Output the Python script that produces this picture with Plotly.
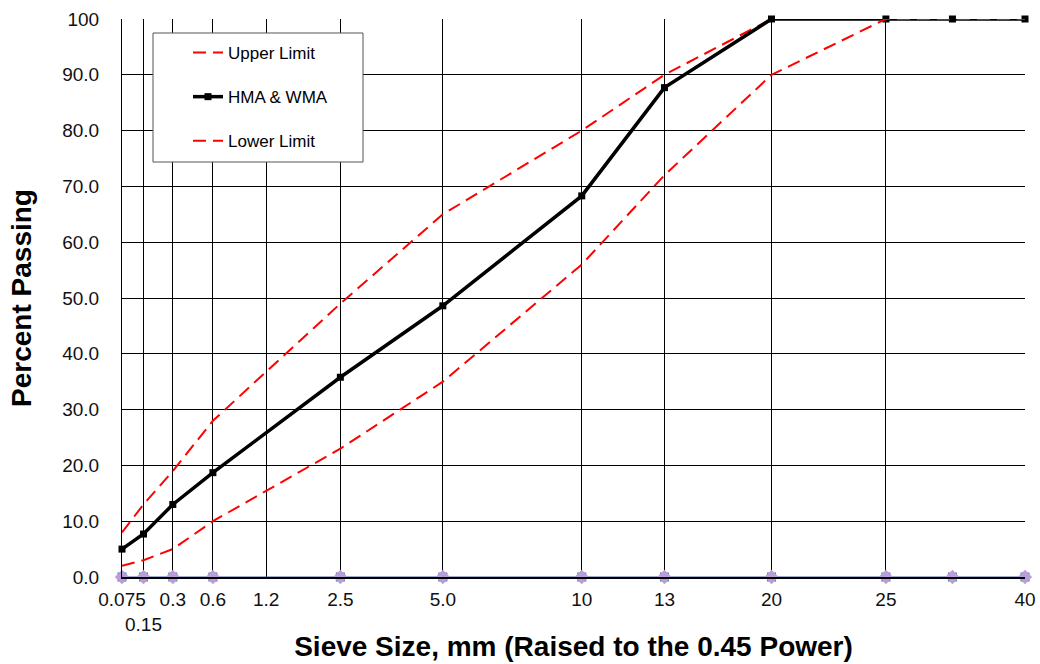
import plotly.graph_objects as go

# Sieve sizes (mm) used for data points (1.18 mm has no data)
sieve_sizes = [0.075, 0.15, 0.3, 0.6, 2.36, 4.75, 9.5, 13.2, 19, 26.5, 31.5, 37.5]
upper_limit = [8, 13, 19, 28, 49, 65, 80, 90, 100, 100, 100, 100]
hma_wma = [5, 7.7, 13, 18.7, 35.8, 48.6, 68.3, 87.7, 100, 100, 100, 100]
lower_limit = [2, 3, 5, 10, 23, 35, 56, 72, 90, 100, 100, 100]
baseline = [0] * len(sieve_sizes)

# Gridline / tick sieves and labels
tick_sizes = [0.075, 0.15, 0.3, 0.6, 1.18, 2.36, 4.75, 9.5, 13.2, 19, 26.5, 37.5]
tick_labels = ["0.075", "<br>0.15", "0.3", "0.6", "1.2", "2.5", "5.0", "10", "13", "20", "25", "40"]

y_ticks = [0, 10, 20, 30, 40, 50, 60, 70, 80, 90, 100]
y_labels = ["0.0", "10.0", "20.0", "30.0", "40.0", "50.0", "60.0", "70.0", "80.0", "90.0", "100"]

P = 0.45
xs = [s ** P for s in sieve_sizes]
xt = [s ** P for s in tick_sizes]

FONT = "Liberation Sans, Arial, sans-serif"

fig = go.Figure()

# baseline series at zero
fig.add_trace(go.Scatter(x=xs, y=baseline, mode="lines+markers",
                         line=dict(color="#3a5fa8", width=1.2),
                         marker=dict(symbol="square", size=9, color="#2a8a8a"),
                         showlegend=False, cliponaxis=False, hoverinfo="skip"))
fig.add_trace(go.Scatter(x=xs, y=baseline, mode="markers",
                         marker=dict(symbol="diamond", size=11, color="#bb9ddb"),
                         showlegend=False, cliponaxis=False, hoverinfo="skip"))

fig.add_trace(go.Scatter(x=xs, y=upper_limit, mode="lines", name="Upper Limit",
                         line=dict(color="#ff0000", width=2, dash="13px,7px"),
                         legendgroup="a", cliponaxis=False))
fig.add_trace(go.Scatter(x=xs, y=hma_wma, mode="lines+markers", name="HMA & WMA",
                         line=dict(color="#000000", width=3.5),
                         marker=dict(symbol="square", size=7, color="#000000"),
                         legendgroup="b", cliponaxis=False))
fig.add_trace(go.Scatter(x=xs, y=lower_limit, mode="lines", name="Lower Limit",
                         line=dict(color="#ff0000", width=2, dash="13px,7px"),
                         legendgroup="c", cliponaxis=False))

W, H = 1040, 664
L, R, T, B = 122, 15, 19, 87
pw = W - L - R
ph = H - T - B

def px_x(p):
    return (p - L) / pw

def px_y(p):
    return (H - B - p) / ph

eps = 1e-6
fig.update_layout(
    width=W, height=H,
    margin=dict(l=L, r=R, t=T, b=B),
    paper_bgcolor="white", plot_bgcolor="white",
    font=dict(family=FONT, color="#000000"),
    xaxis=dict(range=[xt[0] - eps, xt[-1] + eps], tickmode="array", tickvals=xt,
               ticktext=tick_labels, tickangle=0, automargin=False,
               showgrid=True, gridcolor="#000000", gridwidth=1,
               showline=True, linecolor="#000000", linewidth=2, mirror=False,
               zeroline=False, ticks="", ticklabelstandoff=4,
               tickfont=dict(size=19, family=FONT, color="#111"),
               title=dict(text="<b>Sieve Size, mm (Raised to the 0.45 Power)</b>",
                          font=dict(size=28, family=FONT), standoff=3)),
    yaxis=dict(range=[0, 100], tickmode="array", tickvals=y_ticks, ticktext=y_labels,
               showgrid=True, gridcolor="#000000", gridwidth=1, automargin=False,
               showline=True, linecolor="#000000", linewidth=1,
               zeroline=False, ticks="", ticklabelstandoff=18,
               tickfont=dict(size=19, family=FONT, color="#111"),
               title=dict(text="<b>Percent Passing</b>", font=dict(size=28, family=FONT),
                          standoff=22)),
    legend=dict(x=px_x(188), y=px_y(35), xanchor="left", yanchor="top",
                bgcolor="rgba(0,0,0,0)", borderwidth=0,
                font=dict(size=17, family=FONT, color="#000"),
                tracegroupgap=19, itemwidth=30),
    shapes=[dict(type="rect", xref="paper", yref="paper",
                 x0=px_x(153), x1=px_x(363), y0=px_y(162), y1=px_y(33),
                 line=dict(color="#555555", width=1), fillcolor="white", layer="above")],
    showlegend=True,
)

fig.write_html("out.html")
